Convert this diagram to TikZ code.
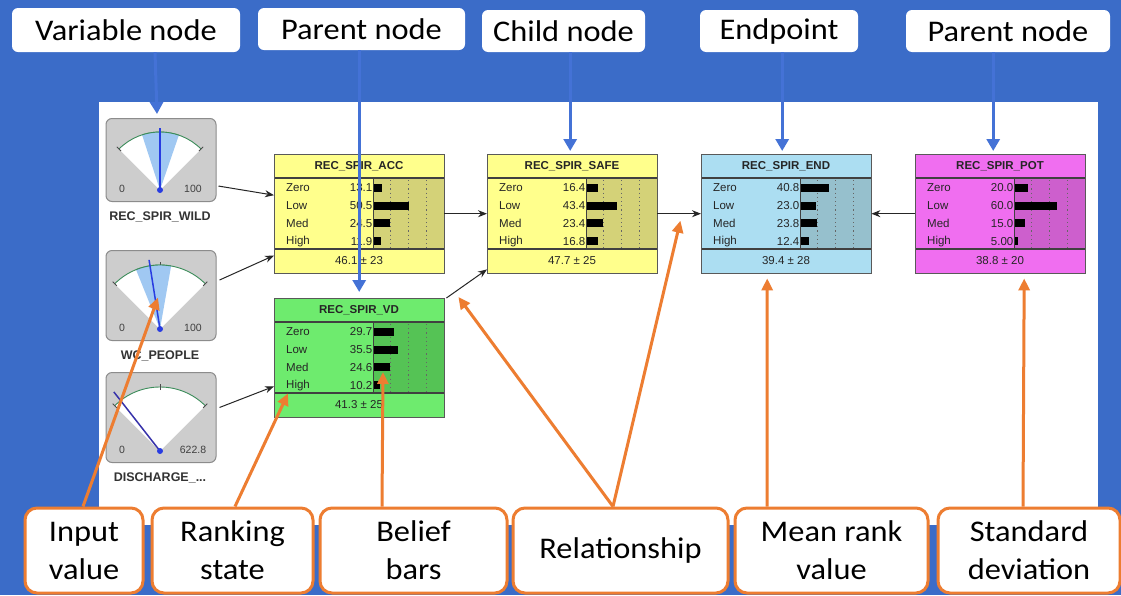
\documentclass[tikz,border=0pt]{standalone}
\usepackage{fontspec}
\setmainfont{Liberation Sans}
\newfontfamily\calib[FakeStretch=1.08]{Carlito}
\usetikzlibrary{arrows.meta,calc}
\definecolor{bgblue}{RGB}{59,108,200}
\definecolor{arrblue}{RGB}{68,114,214}
\definecolor{orng}{RGB}{237,125,49}
\definecolor{yelL}{RGB}{255,255,140}
\definecolor{yelD}{RGB}{212,210,120}
\definecolor{grnL}{RGB}{110,235,110}
\definecolor{grnD}{RGB}{85,195,85}
\definecolor{bluL}{RGB}{172,222,242}
\definecolor{bluD}{RGB}{150,192,205}
\definecolor{magL}{RGB}{240,110,240}
\definecolor{magD}{RGB}{205,95,205}
\definecolor{gaugegrey}{RGB}{205,205,205}
\definecolor{wedgeblue}{RGB}{160,200,242}
\definecolor{arcgreen}{RGB}{60,140,90}
\definecolor{needle}{RGB}{40,60,225}
\definecolor{needledark}{RGB}{55,50,170}
\tikzset{
 toplabel/.style={fill=white, rounded corners=6pt, inner sep=0pt, font=\calib\fontsize{30}{32}\selectfont, text=black},
 callout/.style={fill=white, draw=orng, line width=3pt, rounded corners=12pt, inner sep=0pt, align=center, font=\calib\fontsize{30}{38}\selectfont},
 bluearrow/.style={draw=arrblue, line width=3pt, -{Triangle[length=12pt,width=13pt]}},
 orangearrow/.style={draw=orng, line width=3pt, -{Triangle[length=12pt,width=11pt]}},
 link/.style={draw=black!85, line width=1pt, -{Stealth[length=9pt,width=7pt]}},
 bnbox/.style={minimum width=170pt, minimum height=119pt, inner sep=0pt, anchor=north west},
 bnborder/.style={draw=black!65, line width=1pt},
 rowtxt/.style={inner sep=0pt, font=\fontsize{11.5}{12}\selectfont, text=black!85},
 titletxt/.style={inner sep=0pt, font=\bfseries\fontsize{11.5}{12}\selectfont, text=black!85},
 gaugebox/.style={fill=gaugegrey, draw=black!45, line width=1pt, rounded corners=6pt, minimum width=110pt, inner sep=0pt, anchor=north},
 gaugelabel/.style={inner sep=0pt, font=\bfseries\fontsize{12.5}{13}\selectfont, text=black!80},
 gaugenum/.style={inner sep=0pt, font=\fontsize{10.5}{11}\selectfont, text=black!75},
}
% #1 name, #2 cx, #3 top, #4 height, #5 radius, #6 label, #7 max
% (y axis points down, so angles are negated: -90 is straight up)
\newcommand\gaugedraw[7]{%
 \node[gaugebox, minimum height=#4pt] (#1) at (#2,#3) {};
 \coordinate (#1p) at (#2-1,#3+#4-11);
 \fill[white] (#1p) -- ++(-45:#5) arc (-45:-135:#5) -- cycle;
 \draw[arcgreen, line width=0.9pt] ($(#1p)+(-45:#5)$) arc (-45:-135:#5);
 \foreach \a in {-45,-90,-135} \draw[black!70, line width=1pt] ($(#1p)+(\a:#5-3)$) -- ($(#1p)+(\a:#5+3)$);
 \node[gaugenum] at ($(#1p)+(-38,-1)$) {0};
 \node[gaugenum] at ($(#1p)+(33,-1)$) {#7};
 \node[gaugelabel] at (#2-1,#3+#4+16) {#6};
}
% #1 name, #2 x, #3 y, #4 title, #5 light, #6 dark, #7 rows, #8 mean
\newcommand\bnnet[8]{%
 \node[bnbox, fill=#5] (#1) at (#2,#3) {};
 \begin{scope}[shift={(#2,#3)}]
  \fill[#6] (99,24) rectangle (170,95);
  \foreach \k in {1,2,3} \draw[black!60, line width=0.8pt, dash pattern=on 1.2pt off 3pt] ({99+17.75*\k},26) -- ({99+17.75*\k},94);
  \foreach \lab/\v [count=\i] in {#7} {
    \pgfmathsetmacro\yy{34+(\i-1)*17.7}
    \node[rowtxt, anchor=west] at (12,\yy) {\lab};
    \node[rowtxt, anchor=east] at (98.5,\yy) {\v};
    \fill[black] (99,{\yy-4}) rectangle ({99+0.71*\v},{\yy+4});
  }
  \draw[black!75, line width=1.3pt] (0,24) -- (170,24) (0,95) -- (170,95);
  \draw[black!75, line width=1pt] (99,24) -- (99,95);
  \node[titletxt] at (85,12) {#4};
  \node[rowtxt] at (85,107) {#8};
  \draw[bnborder] (0,0) rectangle (170,119);
 \end{scope}}
\begin{document}
\begin{tikzpicture}[x=1pt,y=-1pt]
\useasboundingbox (0,0) rectangle (1121,595);
\fill[bgblue] (0,0) rectangle (1121,595);
\fill[white] (99,102) rectangle (1098,525);

% gauges
\gaugedraw{g1}{161}{118}{83}{58}{REC\_SPIR\_WILD}{100}
\fill[wedgeblue] (g1p) -- ++(-71:58) arc (-71:-108:58) -- cycle;
\draw[arcgreen, line width=0.9pt] ($(g1p)+(-71:58)$) arc (-71:-108:58);
\draw[needle, line width=1.5pt] (g1p) -- ++(-90:62);
\fill[needle] (g1p) circle (3);

\gaugedraw{g2}{161}{250}{90}{64}{WC\_PEOPLE}{100}
\fill[wedgeblue] (g2p) -- ++(-80:64) arc (-80:-112:64) -- cycle;
\draw[arcgreen, line width=0.9pt] ($(g2p)+(-80:64)$) arc (-80:-112:64);
\draw[needle, line width=1.5pt] (g2p) -- ++(-99:70);
\fill[needle] (g2p) circle (3);

\gaugedraw{g3}{161}{372}{90}{64}{DISCHARGE\_...}{622.8}
\draw[needledark, line width=1.5pt] (g3p) -- ++(-128:75);
\fill[needle] (g3p) circle (3);

% network nodes
\bnnet{acc}{274}{154}{REC\_SPIR\_ACC}{yelL}{yelD}{Zero/13.1,Low/50.5,Med/24.5,High/11.9}{46.1 ± 23}
\bnnet{vd}{274}{298}{REC\_SPIR\_VD}{grnL}{grnD}{Zero/29.7,Low/35.5,Med/24.6,High/10.2}{41.3 ± 25}
\bnnet{safe}{487}{154}{REC\_SPIR\_SAFE}{yelL}{yelD}{Zero/16.4,Low/43.4,Med/23.4,High/16.8}{47.7 ± 25}
\bnnet{end}{701}{154}{REC\_SPIR\_END}{bluL}{bluD}{Zero/40.8,Low/23.0,Med/23.8,High/12.4}{39.4 ± 28}
\bnnet{pot}{915}{154}{REC\_SPIR\_POT}{magL}{magD}{Zero/20.0,Low/60.0,Med/15.0,High/5.00}{38.8 ± 20}

% connectors
\draw[link] ($(g1.north east)!0.81!(g1.south east)+(2,0)$) -- ($(acc.north west)!0.345!(acc.south west)$);
\draw[link] ($(g2.north east)!0.33!(g2.south east)+(3,0)$) -- ($(acc.north west)!0.85!(acc.south west)$);
\draw[link] ($(g3.north east)!0.39!(g3.south east)+(3,0)$) -- ($(vd.north west)!0.74!(vd.south west)$);
\draw[link] (acc.east) -- (safe.west);
\draw[link] ($(vd.north east)+(2,0)$) -- ($(safe.south west)+(0,-4)$);
\draw[link] (safe.east) -- (end.west);
\draw[link] (pot.west) -- (end.east);

% top labels
\node[toplabel, minimum width=228pt, minimum height=44pt] (vn) at (126,30) {Variable node};
\node[toplabel, minimum width=207pt, minimum height=42pt] (pn1) at (361.5,29) {Parent node};
\node[toplabel, minimum width=163pt, minimum height=42pt] (cn) at (563.5,31) {Child node};
\node[toplabel, minimum width=158pt, minimum height=42pt] (ep) at (779,31) {Endpoint};
\node[toplabel, minimum width=204pt, minimum height=42pt] (pn2) at (1008,31) {Parent node};

% blue arrows
\draw[bluearrow] ($(vn.south)+(29,0)$) -- ($(g1.north)+(-4,-4)$);
\draw[bluearrow] (vd.north |- pn1.south) -- ($(vd.north)+(0,-6)$);
\draw[bluearrow] ($(safe.north |- cn.south)+(-2,0)$) -- ($(safe.north)+(-2,-3)$);
\draw[bluearrow] ($(end.north |- ep.south)+(-4,0)$) -- ($(end.north)+(-4,-3)$);
\draw[bluearrow] ($(pot.north |- pn2.south)+(-7,0)$) -- ($(pot.north)+(-7,-3)$);

% callouts
\node[callout, minimum width=118pt, minimum height=85pt] (inp) at (84,550.5) {Input\\value};
\node[callout, minimum width=161pt, minimum height=85pt] (rank) at (232.5,550.5) {Ranking\\state};
\node[callout, minimum width=187pt, minimum height=85pt] (belief) at (413.5,550.5) {Belief\\bars};
\node[callout, minimum width=215pt, minimum height=85pt] (rel) at (620.5,550.5) {Relationship};
\node[callout, minimum width=193pt, minimum height=85pt] (mean) at (831.5,550.5) {Mean rank\\value};
\node[callout, minimum width=182pt, minimum height=85pt] (sd) at (1029,550.5) {Standard\\deviation};

% orange arrows
\draw[orangearrow] ($(inp.north)+(-1,0)$) -- ($(g2.center)+(-3,2)$);
\draw[orangearrow] ($(rank.north)+(2.5,0)$) -- ($(vd.south west)+(14,-24)$);
\draw[orangearrow] ($(belief.north)+(-31.5,0)$) -- ($(vd.north west)+(109,74)$);
\draw[orangearrow] ($(rel.north)+(-7.5,0)$) -- ($(vd.north east)+(14,-1)$);
\draw[orangearrow] ($(rel.north)+(-7.5,0)$) -- ($(safe.east)+(23,7)$);
\draw[orangearrow] ($(mean.north)+(-64.5,0)$) -- ($(end.south)+(-19,5)$);
\draw[orangearrow] ($(sd.north)+(-6,0)$) -- ($(pot.south)+(24,5)$);
\end{tikzpicture}
\end{document}
